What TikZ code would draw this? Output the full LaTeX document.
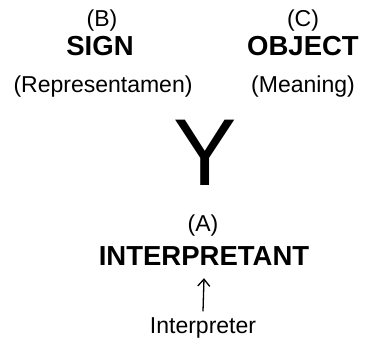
\documentclass[tikz,border=0pt]{standalone}
\usepackage{fontspec}
\setmainfont{Liberation Sans}
\usetikzlibrary{arrows.meta}
\begin{document}
\begin{tikzpicture}[x=1pt,y=1pt,
  lbl/.style={anchor=base, inner sep=0pt, font=\fontsize{23}{27}\selectfont},
  term/.style={anchor=base, inner sep=0pt, font=\fontsize{27.5}{32}\selectfont\bfseries},
  bigy/.style={anchor=base, inner sep=0pt, font=\fontsize{95}{100}\selectfont},
  uparrow/.style={line width=1.3pt, -{Straight Barb[length=7pt,width=12pt,line width=1.3pt]}}]
\useasboundingbox (0,0) rectangle (367,339);
% left column: the sign
\node[lbl]  (b)     at (102,312) {(B)};
\node[term] (sign)  at (100,283) {SIGN};
\node[lbl]  (repr)  at (103,246) {(Representamen)};
% right column: the object
\node[lbl]  (c)     at (303,312) {(C)};
\node[term] (obj)   at (303,283) {OBJECT};
\node[lbl]  (mean)  at (303,246) {(Meaning)};
% the fork in the middle
\node[bigy] (fork)  at (205,153) {Y};
% bottom column: the interpretant
\node[lbl]  (a)     at (203,107) {(A)};
\node[term] (itant) at (204,73)  {INTERPRETANT};
\node[lbl]  (iter)  at (203,5)   {Interpreter};
\draw[uparrow] ([yshift=6.5pt]iter.north) -- ([yshift=-12pt]itant.south);
\end{tikzpicture}
\end{document}
